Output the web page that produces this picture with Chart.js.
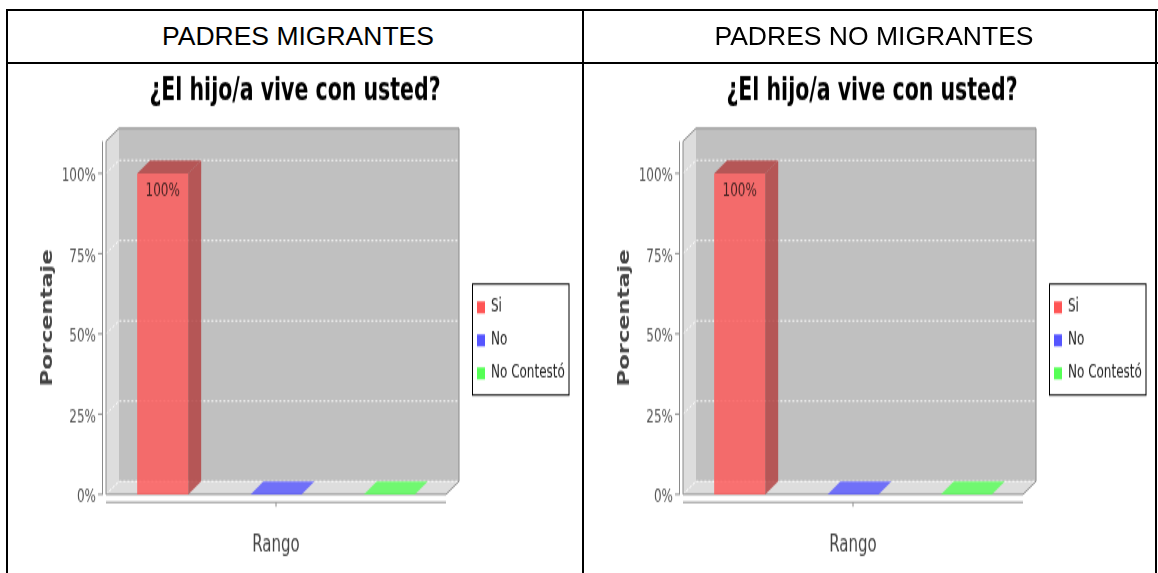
<!DOCTYPE html>
<html>
<head>
<meta charset="utf-8">
<script src="https://cdn.jsdelivr.net/npm/chart.js@4.4.1/dist/chart.umd.min.js"></script>
<style>
  html, body { margin:0; padding:0; background:#fff; width:1158px; height:573px; overflow:hidden; position:relative; }
  .line { position:absolute; background:#000; z-index:5; }
  .hdr { position:absolute; top:11px; height:51px; display:flex; align-items:center; justify-content:center;
         font-family:"Liberation Sans", Arial, sans-serif; font-size:26.5px; color:#000; z-index:5; white-space:nowrap; }
  canvas.c { position:absolute; top:64px; transform-origin:0 0; transform:scaleY(1.5); }
</style>
</head>
<body>
<div class="line" style="left:6px;top:9px;width:1152px;height:2px"></div>
<div class="line" style="left:6px;top:62px;width:1152px;height:2px"></div>
<div class="line" style="left:6px;top:9px;width:2px;height:564px"></div>
<div class="line" style="left:582px;top:9px;width:2px;height:564px"></div>
<div class="line" style="left:1155px;top:9px;width:2px;height:564px"></div>
<div class="hdr" id="h1" style="left:8px;width:580px"></div>
<div class="hdr" id="h2" style="left:584px;width:580px"></div>
<canvas class="c" id="c1" width="574" height="340" style="left:8px"></canvas>
<canvas class="c" id="c2" width="574" height="340" style="left:585px"></canvas>
<script>
// ---- data ----
const panelHeaders = ['PADRES MIGRANTES', 'PADRES NO MIGRANTES'];
const categories = [''];
const seriesLabels = ['Si', 'No', 'No Contestó'];
const migrantesValues = [100, 0, 0];
const noMigrantesValues = [100, 0, 0];
const yTickValues = [0, 25, 50, 75, 100];
const chartTitle = '¿El hijo/a vive con usted?';
const yAxisTitle = 'Porcentaje';
const xAxisTitle = 'Rango';

// ---- styles ----
const frontColors = ['rgba(255,85,85,0.8)', 'rgba(85,85,255,0.8)', 'rgba(85,255,85,0.8)'];
const sideColors  = ['rgba(178,59,59,0.8)', 'rgba(59,59,178,0.8)', 'rgba(59,178,59,0.8)'];
const legendColors = ['#ff5555', '#5555ff', '#55ff55'];
const K = 1.5;          // vertical stretch of the picture
const DX = 13, DY = 13 / K;   // 3D depth
const FONT = 'DejaVu Sans';

document.getElementById('h1').textContent = panelHeaders[0];
document.getElementById('h2').textContent = panelHeaders[1];

function poly(ctx, pts) {
  ctx.beginPath();
  pts.forEach((p, i) => i ? ctx.lineTo(p[0], p[1]) : ctx.moveTo(p[0], p[1]));
  ctx.closePath();
}

const threeD = {
  id: 'threeD',
  afterLayout(chart) {
    const lg = chart.legend;
    lg.left = 459; lg.top = 146.3; lg.width = 112; lg.height = 100;
    lg.right = lg.left + lg.width; lg.bottom = lg.top + lg.height;
  },
  beforeDraw(chart) {
    const ctx = chart.ctx;
    const {left: L, right: R, top: T, bottom: B} = chart.chartArea;
    const ys = chart.scales.y;
    ctx.save();
    ctx.fillStyle = '#c0c0c0';
    ctx.fillRect(L + DX, T - DY, R - L, B - T);
    ctx.fillStyle = '#dddddd';
    poly(ctx, [[L, T], [L + DX, T - DY], [L + DX, B - DY], [L, B]]); ctx.fill();
    poly(ctx, [[L, B], [L + DX, B - DY], [R + DX, B - DY], [R, B]]); ctx.fill();
    ctx.strokeStyle = 'rgba(255,255,255,0.95)';
    ctx.lineWidth = 1;
    ctx.setLineDash([2, 2]);
    ys.ticks.forEach(t => {
      const y = ys.getPixelForValue(t.value);
      ctx.beginPath();
      ctx.moveTo(L, y); ctx.lineTo(L + DX, y - DY); ctx.lineTo(R + DX, y - DY);
      ctx.stroke();
    });
    ctx.setLineDash([]);
    ctx.strokeStyle = '#8a8a8a';
    poly(ctx, [[L, B], [L, T], [L + DX, T - DY], [R + DX, T - DY], [R + DX, B - DY], [R, B]]);
    ctx.stroke();
    ctx.restore();
  },
  afterDatasetsDraw(chart) {
    const ctx = chart.ctx;
    const B = chart.chartArea.bottom;
    ctx.save();
    chart.data.datasets.forEach((ds, i) => {
      const meta = chart.getDatasetMeta(i);
      meta.data.forEach((el, j) => {
        const {x, y, base, width} = el.getProps(['x', 'y', 'base', 'width'], true);
        const l = x - width / 2, r = x + width / 2;
        if (Math.abs(base - y) < 0.5) {
          ctx.fillStyle = frontColors[i];
          poly(ctx, [[l, B], [l + DX, B - DY], [r + DX, B - DY], [r, B]]); ctx.fill();
        } else {
          ctx.fillStyle = sideColors[i];
          poly(ctx, [[l, y], [l + DX, y - DY], [r + DX, y - DY], [r, y]]); ctx.fill();
          poly(ctx, [[r, y], [r + DX, y - DY], [r + DX, base - DY], [r, base]]); ctx.fill();
          ctx.fillStyle = 'rgba(50,25,25,0.9)';
          ctx.font = '12px "' + FONT + '"';
          ctx.textAlign = 'center';
          ctx.textBaseline = 'middle';
          ctx.fillText(ds.data[j] + '%', x, y + 12);
        }
      });
    });
    ctx.restore();
  },
  afterDraw(chart) {
    const ctx = chart.ctx;
    const {left: L, right: R, top: T, bottom: B} = chart.chartArea;
    const ys = chart.scales.y, xs = chart.scales.x;
    ctx.save();
    ctx.strokeStyle = '#8a8a8a';
    ctx.lineWidth = 1;
    ctx.beginPath();
    ctx.moveTo(L - 3.5, T); ctx.lineTo(L - 3.5, B);
    ys.ticks.forEach(t => {
      const y = ys.getPixelForValue(t.value);
      ctx.moveTo(L - 8, y); ctx.lineTo(L - 3, y);
    });
    const xa = B + 5.3;
    ctx.moveTo(L, xa); ctx.lineTo(R, xa);
    categories.forEach((c, i) => {
      const x = xs.getPixelForValue(i);
      ctx.moveTo(x, xa); ctx.lineTo(x, xa + 3);
    });
    ctx.stroke();
    ctx.strokeStyle = '#000';
    ctx.strokeRect(464.5, 146.7, 96.5, 74);
    ctx.restore();
  }
};

function makeChart(id, values) {
  return new Chart(document.getElementById(id), {
    type: 'bar',
    data: {
      labels: categories,
      datasets: seriesLabels.map((s, i) => ({
        label: s,
        data: [values[i]],
        backgroundColor: frontColors[i],
        borderWidth: 0,
        categoryPercentage: 1.0,
        barPercentage: 0.45,
        xAxisID: 'x',
        yAxisID: 'y'
      }))
    },
    options: {
      responsive: false,
      animation: false,
      devicePixelRatio: 1,
      layout: { padding: 0 },
      scales: {
        x: {
          grid: { display: false },
          border: { display: false },
          ticks: { display: false },
          title: { display: true, text: xAxisTitle, color: '#444',
                   font: { family: FONT, size: 15 }, padding: { top: 0, bottom: 10.3 } },
          afterFit: s => { s.height = 53.1; }
        },
        y: {
          min: 0, max: 110,
          grid: { display: false },
          border: { display: false },
          afterBuildTicks: s => { s.ticks = yTickValues.map(v => ({ value: v })); },
          ticks: { callback: v => v + '%', color: '#555', font: { family: FONT, size: 12 },
                   padding: 2, labelOffset: 2 },
          title: { display: true, text: yAxisTitle, color: '#444',
                   font: { family: FONT, size: 15, weight: 'bold' }, padding: { top: 31, bottom: 0 } },
          afterFit: s => { s.width = 98; }
        },
        yR: {
          position: 'right', display: true,
          grid: { display: false }, border: { display: false }, ticks: { display: false },
          afterFit: s => { s.width = 136; }
        }
      },
      plugins: {
        title: { display: true, text: chartTitle, color: '#000',
                 font: { family: FONT, size: 20.5, weight: 'bold' }, padding: { top: 6, bottom: 20.9 } },
        legend: {
          position: 'chartArea', align: 'start',
          labels: {
            boxWidth: 8, boxHeight: 8, padding: 10, color: '#222',
            font: { family: FONT, size: 12 },
            generateLabels: (chart) => Chart.defaults.plugins.legend.labels.generateLabels(chart)
              .map((l, i) => Object.assign(l, { fillStyle: legendColors[i], strokeStyle: legendColors[i], lineWidth: 0 }))
          }
        },
        tooltip: { enabled: false }
      }
    },
    plugins: [threeD]
  });
}

makeChart('c1', migrantesValues);
makeChart('c2', noMigrantesValues);
</script>
</body>
</html>
